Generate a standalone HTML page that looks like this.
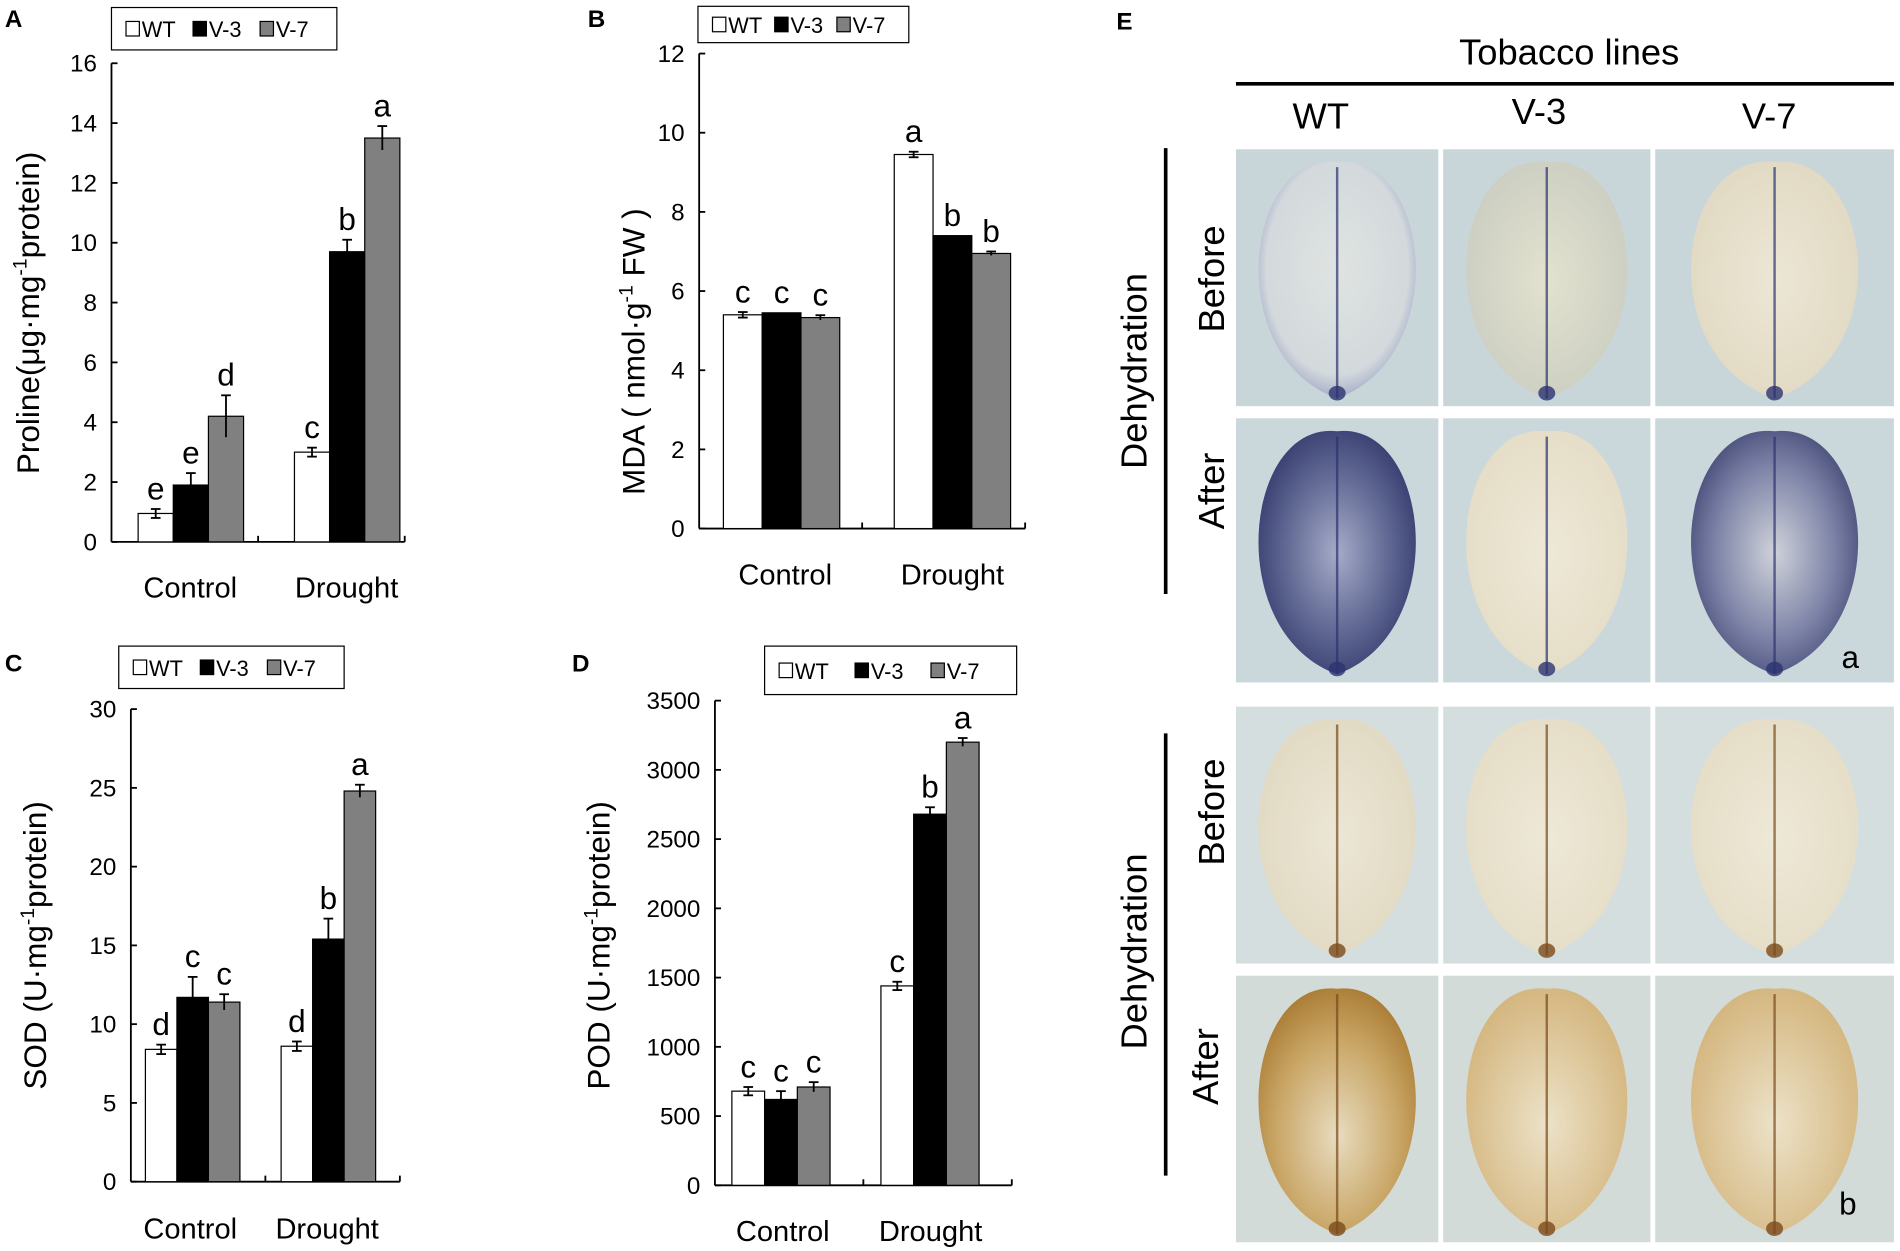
<!DOCTYPE html>
<html><head><meta charset="utf-8"><style>
html,body{margin:0;padding:0;background:#fff;}
svg{display:block;font-family:"Liberation Sans",Arial,sans-serif;}
</style></head><body>
<svg id="fig" width="1900" height="1251" viewBox="0 0 1568 1032" xmlns="http://www.w3.org/2000/svg">
<defs>
<radialGradient id="gBlueLight" cx="50%" cy="45%" r="60%"><stop offset="0" stop-color="#dfe4e2"/><stop offset="0.75" stop-color="#d3d9dc"/><stop offset="1" stop-color="#8f97c0"/></radialGradient>
<radialGradient id="gCream" cx="50%" cy="50%" r="60%"><stop offset="0" stop-color="#e3e2cf"/><stop offset="1" stop-color="#c9ccc0"/></radialGradient>
<radialGradient id="gDark" cx="50%" cy="50%" r="60%"><stop offset="0" stop-color="#a5abc8"/><stop offset="0.6" stop-color="#5a628e"/><stop offset="1" stop-color="#2e3468"/></radialGradient>
<radialGradient id="gMid" cx="50%" cy="50%" r="60%"><stop offset="0" stop-color="#cfd2da"/><stop offset="0.6" stop-color="#7c82a6"/><stop offset="1" stop-color="#3a406e"/></radialGradient>
<radialGradient id="gPale" cx="50%" cy="50%" r="60%"><stop offset="0" stop-color="#ece6d6"/><stop offset="1" stop-color="#e0d8c0"/></radialGradient>
<radialGradient id="gPale2" cx="50%" cy="50%" r="60%"><stop offset="0" stop-color="#eee8d8"/><stop offset="1" stop-color="#e4dcc4"/></radialGradient>
<radialGradient id="gBrown" cx="50%" cy="60%" r="65%"><stop offset="0" stop-color="#e8dcc0"/><stop offset="0.6" stop-color="#c9a666"/><stop offset="1" stop-color="#a6772e"/></radialGradient>
<radialGradient id="gBrownL" cx="50%" cy="55%" r="60%"><stop offset="0" stop-color="#ece2c8"/><stop offset="1" stop-color="#d3b37a"/></radialGradient>
</defs>
<g id="charts"></g>
<g id="panelE"></g>
</svg>
<script>
// ===== Chart data =====
const categories = ["Control", "Drought"];
const seriesNames = ["WT", "V-3", "V-7"];
const seriesFill = ["#ffffff", "#000000", "#808080"];

const prolineValues = [[0.95, 1.9, 4.2], [3.0, 9.7, 13.5]];
const prolineErrors = [[0.15, 0.4, 0.7], [0.15, 0.4, 0.4]];
const prolineLetters = [["e", "e", "d"], ["c", "b", "a"]];
const prolineTicks = [0, 2, 4, 6, 8, 10, 12, 14, 16];

const mdaValues = [[5.4, 5.45, 5.33], [9.45, 7.4, 6.95]];
const mdaErrors = [[0.07, 0, 0.06], [0.07, 0, 0.05]];
const mdaLetters = [["c", "c", "c"], ["a", "b", "b"]];
const mdaTicks = [0, 2, 4, 6, 8, 10, 12];

const sodValues = [[8.4, 11.7, 11.4], [8.6, 15.4, 24.8]];
const sodErrors = [[0.3, 1.3, 0.5], [0.3, 1.3, 0.4]];
const sodLetters = [["d", "c", "c"], ["d", "b", "a"]];
const sodTicks = [0, 5, 10, 15, 20, 25, 30];

const podValues = [[680, 620, 710], [1440, 2680, 3200]];
const podErrors = [[30, 60, 35], [30, 50, 30]];
const podLetters = [["c", "c", "c"], ["c", "b", "a"]];
const podTicks = [0, 500, 1000, 1500, 2000, 2500, 3000, 3500];

const NS = "http://www.w3.org/2000/svg";
function mk(tag, attrs, parent, text) {
  const e = document.createElementNS(NS, tag);
  for (const k in attrs) e.setAttribute(k, attrs[k]);
  if (text !== undefined) e.textContent = text;
  parent.appendChild(e);
  return e;
}

function drawChart(cfg) {
  const root = document.getElementById("charts");
  const g = mk("g", {}, root);
  
  
  const max = cfg.ticks[cfg.ticks.length - 1];
  const y = v => cfg.y0 - (v / max) * (cfg.y0 - cfg.yTop);
  const pl = mk("text", {x: cfg.letterX, y: cfg.letterY, "font-size": 20, "font-weight": "bold"}, g, cfg.letter);
  
  
  const lg = mk("g", {}, g);
  
  
  mk("rect", {x: cfg.leg[0], y: cfg.leg[1], width: cfg.leg[2], height: cfg.leg[3], fill: "#fff", stroke: "#000", "stroke-width": 1}, lg);
  seriesNames.forEach((n, i) => {
    const lx = cfg.leg[0] + 12 + i * (cfg.leg[2] - 20) / 3;
    const cy = cfg.leg[1] + cfg.leg[3] / 2;
    const ent = mk("g", {}, lg);
    
    
    mk("rect", {x: lx, y: cy - 6, width: 11, height: 12, fill: seriesFill[i], stroke: "#000", "stroke-width": 1}, ent);
    mk("text", {x: lx + 13, y: cy + 7, "font-size": 18}, ent, n);
  });
  const ax = mk("g", {}, g);
  
  
  mk("line", {x1: cfg.x0, y1: cfg.yTop, x2: cfg.x0, y2: cfg.y0, stroke: "#000", "stroke-width": 1.5}, ax);
  cfg.ticks.forEach(t => {
    mk("line", {x1: cfg.x0, y1: y(t), x2: cfg.x0 + 5, y2: y(t), stroke: "#000", "stroke-width": 1.5}, ax);
    mk("text", {x: cfg.x0 - 12, y: y(t) + 7, "font-size": 20, "text-anchor": "end"}, ax, t);
  });
  const xa = mk("g", {}, g);
  
  
  mk("line", {x1: cfg.x0, y1: cfg.y0, x2: cfg.xEnd, y2: cfg.y0, stroke: "#000", "stroke-width": 1.5}, xa);
  const mid = (cfg.x0 + cfg.xEnd) / 2;
  [mid, cfg.xEnd].forEach(xx => mk("line", {x1: xx, y1: cfg.y0, x2: xx, y2: cfg.y0 - 5, stroke: "#000", "stroke-width": 1.5}, xa));
  const yt = mk("text", {x: 0, y: 0, "font-size": cfg.titleSize, "text-anchor": "middle", transform: `translate(${cfg.titleX},${cfg.titleY}) rotate(-90)`}, g);
  
  
  yt.innerHTML = cfg.title;
  categories.forEach((c, ci) => {
    const start = cfg.groupStart[ci];
    cfg.vals[ci].forEach((v, si) => {
      const bx = start + si * cfg.bw;
      const bar = mk("rect", {x: bx, y: y(v), width: cfg.bw, height: cfg.y0 - y(v), fill: seriesFill[si], stroke: "#000", "stroke-width": 1}, g);
      
      
      const e = cfg.errs[ci][si];
      const cx = bx + cfg.bw / 2;
      if (e > 0) {
        mk("line", {x1: cx, y1: y(v + e), x2: cx, y2: y(v - e), stroke: "#000", "stroke-width": 1.5}, g);
        mk("line", {x1: cx - 4, y1: y(v + e), x2: cx + 4, y2: y(v + e), stroke: "#000", "stroke-width": 1.5}, g);
        if (si === 0) mk("line", {x1: cx - 4, y1: y(v - e), x2: cx + 4, y2: y(v - e), stroke: "#000", "stroke-width": 1.5}, g);
      }
      const lt = mk("text", {x: cx, y: y(v + e) - 8, "font-size": 26, "text-anchor": "middle"}, g, cfg.letters[ci][si]);
      
      
    });
    const cl = mk("text", {x: cfg.catX[ci], y: cfg.catY, "font-size": 24, "text-anchor": "middle"}, g, c);
    
    
  });
}

drawChart({name: "chart-proline", letter: "A", letterX: 4, letterY: 22, leg: [92, 6, 186, 35],
  x0: 92, xEnd: 334, y0: 447, yTop: 52, ticks: prolineTicks, vals: prolineValues, errs: prolineErrors, letters: prolineLetters,
  groupStart: [114, 243], bw: 29, catX: [157, 286], catY: 493, titleX: 32, titleY: 258, titleSize: 26,
  title: 'Proline(μg·mg<tspan dy="-10" font-size="16">-1</tspan><tspan dy="10">protein)</tspan>'});
drawChart({name: "chart-mda", letter: "B", letterX: 485, letterY: 22, leg: [576, 5, 174, 30],
  x0: 577, xEnd: 846, y0: 436, yTop: 44, ticks: mdaTicks, vals: mdaValues, errs: mdaErrors, letters: mdaLetters,
  groupStart: [597, 738], bw: 32, catX: [648, 786], catY: 482, titleX: 532, titleY: 290, titleSize: 26,
  title: 'MDA ( nmol·g<tspan dy="-10" font-size="16">-1</tspan><tspan dy="10"> FW )</tspan>'});
drawChart({name: "chart-sod", letter: "C", letterX: 4, letterY: 554, leg: [98, 533, 186, 35],
  x0: 108, xEnd: 330, y0: 975, yTop: 585, ticks: sodTicks, vals: sodValues, errs: sodErrors, letters: sodLetters,
  groupStart: [120, 232], bw: 26, catX: [157, 270], catY: 1022, titleX: 38, titleY: 780, titleSize: 26,
  title: 'SOD  (U·mg<tspan dy="-10" font-size="16">-1</tspan><tspan dy="10">protein)</tspan>'});
drawChart({name: "chart-pod", letter: "D", letterX: 472, letterY: 554, leg: [631, 533, 208, 40],
  x0: 590, xEnd: 835, y0: 978, yTop: 578, ticks: podTicks, vals: podValues, errs: podErrors, letters: podLetters,
  groupStart: [604, 727], bw: 27, catX: [646, 768], catY: 1024, titleX: 503, titleY: 780, titleSize: 26,
  title: 'POD (U·mg<tspan dy="-10" font-size="16">-1</tspan><tspan dy="10">protein)</tspan>'});

// ===== Panel E (photos) =====
const E = document.getElementById("panelE");
function T(x, y, s, txt, name, rot, bold) {
  const a = {x: 0, y: 0, "font-size": s, "text-anchor": "middle", transform: `translate(${x},${y})` + (rot ? " rotate(-90)" : "")};
  if (bold) a["font-weight"] = "bold";
  const t = mk("text", a, E, txt);
  
  
}
T(928, 24, 20, "E", "panel-label", false, true);
T(1295, 53, 30, "Tobacco lines", "tobacco-lines-title");
mk("line", {x1: 1020, y1: 69, x2: 1563, y2: 69, stroke: "#000", "stroke-width": 3}, E);
T(1090, 106, 30, "WT", "column-label-wt");
T(1270, 102, 30, "V-3", "column-label-v3");
T(1460, 106, 30, "V-7", "column-label-v7");
mk("line", {x1: 962, y1: 122, x2: 962, y2: 490, stroke: "#000", "stroke-width": 3}, E);
mk("line", {x1: 962, y1: 605, x2: 962, y2: 970, stroke: "#000", "stroke-width": 3}, E);
T(946, 306, 30, "Dehydration", "dehydration-label-top", true);
T(946, 785, 30, "Dehydration", "dehydration-label-bottom", true);
T(1010, 230, 30, "Before", "before-label-top", true);
T(1010, 405, 30, "After", "after-label-top", true);
T(1010, 670, 30, "Before", "before-label-bottom", true);
T(1005, 880, 30, "After", "after-label-bottom", true);

const cols = [[1020, 1187], [1191, 1362], [1366, 1563]];
const rows = [[123, 335, "#c9d6d9", ["gBlueLight", "gCream", "gPale"]],
              [345, 563, "#cbd8db", ["gDark", "gPale2", "gMid"]],
              [583, 795, "#d5dede", ["gPale", "gPale2", "gPale2"]],
              [805, 1025, "#d3dbd9", ["gBrown", "gBrownL", "gBrownL"]]];
rows.forEach((r, ri) => {
  cols.forEach((c, ci) => {
    const w = c[1] - c[0], h = r[1] - r[0];
    const rc = mk("rect", {x: c[0], y: r[0], width: w, height: h, fill: r[2]}, E);
    
    
    const cx = c[0] + w / 2, cy = r[0] + h / 2 + 2;
    const rx = Math.min(w * 0.44, 78);
    mk("path", {d: `M${cx},${cy + h * 0.46} C${cx - rx * 1.3},${cy + h * 0.3} ${cx - rx * 1.05},${cy - h * 0.5} ${cx},${cy - h * 0.46} C${cx + rx * 1.05},${cy - h * 0.5} ${cx + rx * 1.3},${cy + h * 0.3} ${cx},${cy + h * 0.46}Z`, fill: `url(#${r[3][ci]})`}, E);
    const vc = ri < 2 ? "#2c3370" : "#7a4a1a";
    mk("line", {x1: cx, y1: cy - h * 0.44, x2: cx, y2: cy + h * 0.46, stroke: vc, "stroke-width": 2, opacity: 0.7}, E);
    mk("ellipse", {cx: cx, cy: cy + h * 0.44, rx: 7, ry: 6, fill: vc, opacity: 0.8}, E);
  });
});
T(1527, 551, 26, "a", "subpanel-label-a");
T(1525, 1002, 26, "b", "subpanel-label-b");
</script>
</body></html>
